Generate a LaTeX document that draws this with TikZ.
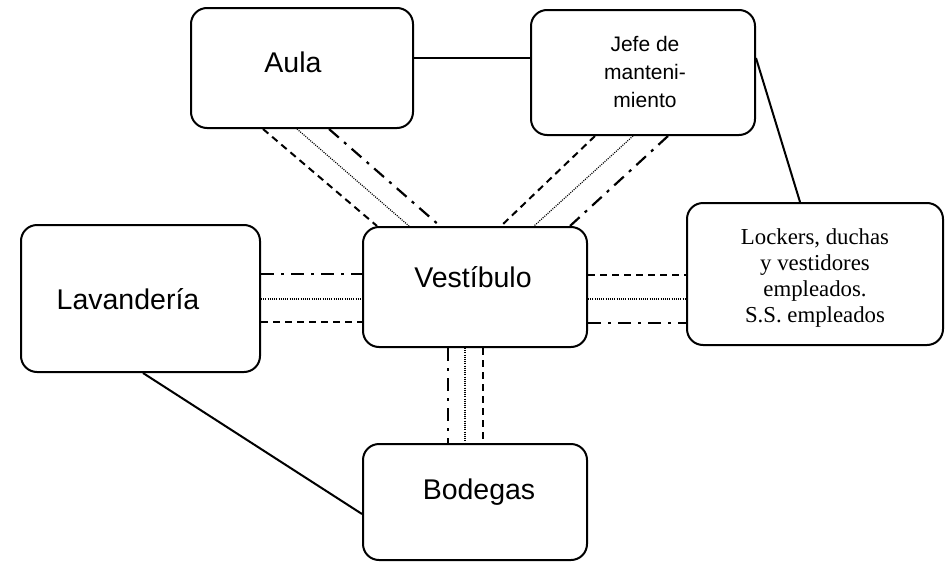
\documentclass[tikz,border=0pt]{standalone}
\usepackage{fontspec}
\setmainfont{Liberation Sans}
\newfontfamily\serifA{Liberation Serif}
\begin{document}
\begin{tikzpicture}[x=1pt,y=-1pt,
  box/.style={draw, line width=2pt, rounded corners=16pt, inner sep=0pt},
  lbl/.style={font=\fontsize{28.5}{30}\selectfont, inner sep=0pt},
  smalllbl/.style={font=\fontsize{21}{28}\selectfont, inner sep=0pt, align=center},
  seriflbl/.style={font=\serifA\fontsize{22.8}{25.7}\selectfont, inner sep=0pt, align=center},
  con/.style={line width=2pt},
  dsh/.style={line width=2pt, dash pattern=on 7pt off 5pt},
  dotl/.style={line width=1.2pt, dash pattern=on 1pt off 1.2pt},
  dd/.style={line width=2.2pt, dash pattern=on 13pt off 7pt on 3pt off 7pt}]
\useasboundingbox (0,0) rectangle (947,562);
% boxes
\node[box, minimum width=222pt, minimum height=120pt] (aula) at (302,68) {};
\node[box, minimum width=224pt, minimum height=125pt] (jefe) at (643,72.5) {};
\node[box, minimum width=239pt, minimum height=147pt] (lav) at (140.5,298.5) {};
\node[box, minimum width=224pt, minimum height=120pt] (vest) at (475,287) {};
\node[box, minimum width=256pt, minimum height=142pt] (lock) at (815,274) {};
\node[box, minimum width=224pt, minimum height=116pt] (bod) at (475,502) {};
% labels
\node[lbl] (taula) at (293,62) {Aula};
\node[smalllbl] (tjefe) at (645,72) {Jefe de\\manteni-\\miento};
\node[lbl] (tlav) at (128,299) {Lavandería};
\node[lbl] (tvest) at (473,277) {Vestíbulo};
\node[seriflbl] (tlock) at (815,278) {Lockers, duchas\\y vestidores\\empleados.\\S.S. empleados};
\node[lbl] (tbod) at (479,492) {Bodegas};
% solid connectors
\draw[con] (aula.east |- 0,58) -- (jefe.west |- 0,58);
\draw[con] (jefe.east |- 0,58) -- (800,0 |- lock.north);
\draw[con] (143,0 |- lav.south) -- (bod.west |- 0,514);
% Aula - Vestibulo
\draw[dsh] (263,0 |- aula.south) -- (377,0 |- vest.north);
\draw[dotl] (297,0 |- aula.south) -- (409,0 |- vest.north);
\draw[dd] (329,0 |- aula.south) -- (440,0 |- vest.north);
% Jefe - Vestibulo
\draw[dsh] (595,0 |- jefe.south) -- (501,0 |- vest.north);
\draw[dotl] (633,0 |- jefe.south) -- (534,0 |- vest.north);
\draw[dd] (668,0 |- jefe.south) -- (570,0 |- vest.north);
% Lavanderia - Vestibulo
\draw[dd] (lav.east |- 0,274) -- (vest.west |- 0,274);
\draw[dotl] (lav.east |- 0,299) -- (vest.west |- 0,299);
\draw[dsh] (lav.east |- 0,322) -- (vest.west |- 0,322);
% Vestibulo - Lockers
\draw[dsh] (vest.east |- 0,275) -- (lock.west |- 0,275);
\draw[dotl] (vest.east |- 0,299) -- (lock.west |- 0,299);
\draw[dd] (vest.east |- 0,323) -- (lock.west |- 0,323);
% Vestibulo - Bodegas
\draw[dd] (448,0 |- vest.south) -- (448,0 |- bod.north);
\draw[dotl] (465,0 |- vest.south) -- (465,0 |- bod.north);
\draw[dsh] (483,0 |- vest.south) -- (483,0 |- bod.north);
\end{tikzpicture}
\end{document}
